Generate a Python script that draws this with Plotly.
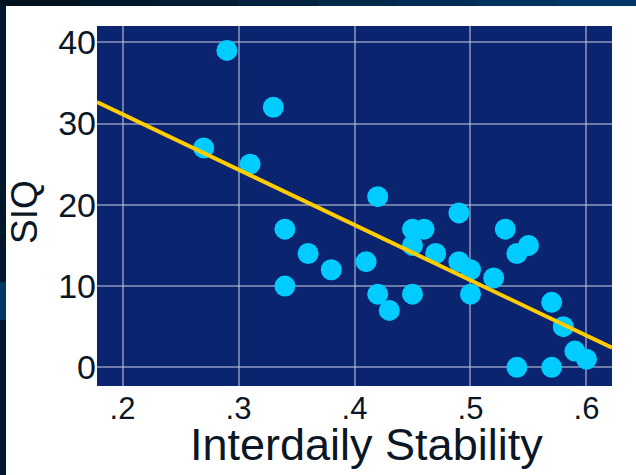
import numpy as np
import plotly.graph_objects as go

# ---- data ----
stability = [0.29, 0.33, 0.27, 0.31, 0.34, 0.36, 0.38, 0.34, 0.41, 0.42,
             0.42, 0.43, 0.45, 0.46, 0.45, 0.47, 0.45, 0.49, 0.49, 0.50,
             0.50, 0.52, 0.53, 0.55, 0.54, 0.57, 0.58, 0.59, 0.60, 0.54, 0.57]
siq = [39, 32, 27, 25, 17, 14, 12, 10, 13, 21,
       9, 7, 17, 17, 15, 14, 9, 19, 13, 12,
       9, 11, 17, 15, 14, 8, 5, 2, 1, 0, 0]

x_ticks = [0.2, 0.3, 0.4, 0.5, 0.6]
x_tick_labels = [".2", ".3", ".4", ".5", ".6"]
y_ticks = [0, 10, 20, 30, 40]
y_tick_labels = ["0", "10", "20", "30", "40"]
x_title = "Interdaily Stability"
y_title = "SIQ"

x_range = [0.178, 0.622]
y_range = [-2.3, 42]

# linear regression fit
slope, intercept = np.polyfit(stability, siq, 1)
fit_x = np.array(x_range)
fit_y = intercept + slope * fit_x

W, H = 636, 475
ML, MR, MT, MB = 97, 24, 26, 89
PW, PH = W - ML - MR, H - MT - MB


def px(xp):
    return (xp - ML) / PW


def py(yp):
    return (H - MB - yp) / PH


text_color = "#0b1626"

fig = go.Figure()
fig.add_trace(go.Scatter(
    x=stability, y=siq, mode="markers",
    marker=dict(size=21, color="#00CCFF", line=dict(width=0)),
    showlegend=False, hoverinfo="x+y"))
fig.add_trace(go.Scatter(
    x=fit_x, y=fit_y, mode="lines",
    line=dict(color="#FFCC00", width=4),
    showlegend=False, hoverinfo="skip"))

shapes = []
# dark frame: top band (gradient approximated by segments) and left band
top_cols = ["#00111f", "#001629", "#001c35", "#002240", "#00284b",
            "#002d55", "#00325e", "#003566"]
n = len(top_cols)
for i, c in enumerate(top_cols):
    shapes.append(dict(type="rect", xref="paper", yref="paper",
                       x0=px(W * i / n), x1=px(W * (i + 1) / n + 1),
                       y0=py(6), y1=py(-1), fillcolor=c, line=dict(width=0),
                       layer="above"))
shapes.append(dict(type="rect", xref="paper", yref="paper",
                   x0=px(-1), x1=px(6), y0=py(H + 1), y1=py(6),
                   fillcolor="#00172c", line=dict(width=0), layer="above"))
shapes.append(dict(type="rect", xref="paper", yref="paper",
                   x0=px(-1), x1=px(6), y0=py(320), y1=py(282),
                   fillcolor="#003566", line=dict(width=0), layer="above"))

fig.update_layout(
    width=W, height=H,
    margin=dict(l=ML, r=MR, t=MT, b=MB, pad=0),
    paper_bgcolor="white",
    plot_bgcolor="#0b246f",
    font=dict(family="Liberation Sans, Arial, sans-serif", color=text_color),
    shapes=shapes,
    xaxis=dict(range=x_range, tickvals=x_ticks, ticktext=x_tick_labels,
               showgrid=True, gridcolor="rgba(190,195,215,0.55)", gridwidth=1.5,
               zeroline=False, showline=False,
               ticks="", ticklabelstandoff=1,
               tickfont=dict(size=31, color=text_color)),
    yaxis=dict(range=y_range, tickvals=y_ticks, ticktext=y_tick_labels,
               showgrid=True, gridcolor="rgba(190,195,215,0.55)", gridwidth=1.5,
               zeroline=False, showline=False,
               ticks="", ticklabelstandoff=0,
               tickfont=dict(size=34, color=text_color)),
    annotations=[
        dict(text=x_title, xref="paper", yref="paper", x=px(366), y=py(444),
             xanchor="center", yanchor="middle", showarrow=False,
             font=dict(size=45, color=text_color)),
        dict(text=y_title, xref="paper", yref="paper", x=px(25), y=py(212),
             xanchor="center", yanchor="middle", showarrow=False, textangle=-90,
             font=dict(size=37, color=text_color)),
    ],
)

fig.write_html(
    "out.html",
    config={"displayModeBar": False},
    post_script="document.body.style.margin='0';document.body.style.overflow='hidden';",
)
